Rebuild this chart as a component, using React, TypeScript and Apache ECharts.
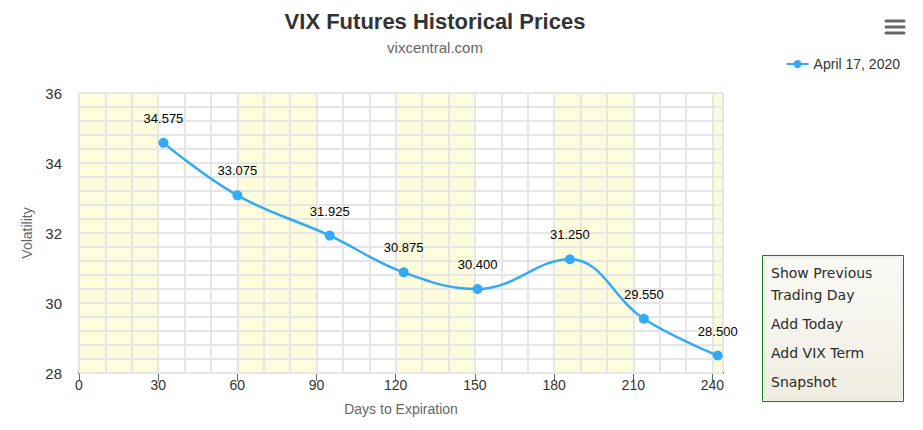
import React, { useEffect, useRef } from "react";
import * as echarts from "echarts";

const days = [32, 60, 95, 123, 151, 186, 214, 242];
const prices = [34.575, 33.075, 31.925, 30.875, 30.4, 31.25, 29.55, 28.5];
const seriesName = "April 17, 2020";
const buttonLabels = ["Show Previous", "Trading Day", "Add Today", "Add VIX Term", "Snapshot"];
const buttonY = [273, 295, 324, 353, 382];

const FONT = "'Liberation Sans', Arial, sans-serif";

export default function App() {
  const ref = useRef<HTMLDivElement>(null);
  useEffect(() => {
    const chart = echarts.init(ref.current!, undefined, { renderer: "svg" });
    chart.setOption({
      animation: false,
      textStyle: { fontFamily: FONT },
      title: {
        text: "VIX Futures Historical Prices",
        subtext: "vixcentral.com",
        left: 430,
        textAlign: "center",
        top: 5,
        itemGap: 8,
        textStyle: { fontSize: 22, fontWeight: "bold", color: "#333", fontFamily: FONT },
        subtextStyle: { fontSize: 15, color: "#666", fontFamily: FONT },
      },
      legend: {
        right: 18,
        top: 52,
        itemWidth: 22,
        itemHeight: 10,
        textStyle: { fontSize: 14, color: "#333", fontFamily: FONT },
        data: [seriesName],
      },
      grid: { left: 79, right: 200, top: 93, bottom: 57 },
      xAxis: {
        type: "value",
        z: 0,
        min: 0,
        max: 244,
        interval: 30,
        name: "Days to Expiration",
        nameLocation: "middle",
        nameGap: 29,
        nameTextStyle: { fontSize: 14, color: "#666", fontFamily: FONT },
        axisLine: { show: true, lineStyle: { color: "#666", width: 2 } },
        axisTick: { show: true, length: 8, inside: false, lineStyle: { color: "#666" } },
        axisLabel: { fontSize: 14, color: "#333", margin: 5, showMaxLabel: false, fontFamily: FONT },
        splitLine: { show: true, lineStyle: { color: "#e6e6e6", width: 2 } },
        splitArea: { show: true, areaStyle: { color: ["#fdfddc", "rgba(255,255,255,0)"] } },
        minorTick: { show: false, splitNumber: 3 },
        minorSplitLine: { show: true, lineStyle: { color: "#e6e6e6", width: 2 } },
      },
      yAxis: {
        type: "value",
        z: 1,
        min: 28,
        max: 36,
        interval: 2,
        name: "Volatility",
        nameLocation: "middle",
        nameGap: 43,
        nameTextStyle: { fontSize: 14, color: "#666", fontFamily: FONT },
        axisLine: { show: false },
        axisTick: { show: false },
        axisLabel: { fontSize: 15, color: "#333", margin: 17, fontFamily: FONT },
        splitLine: { show: true, lineStyle: { color: "#e6e6e6", width: 2 } },
        minorTick: { show: false, splitNumber: 5 },
        minorSplitLine: { show: true, lineStyle: { color: "#e6e6e6", width: 2 } },
      },
      series: [
        {
          name: seriesName,
          type: "line",
          z: 3,
          smooth: 0.4,
          data: days.map((d, i) => [d, prices[i]]),
          symbol: "circle",
          symbolSize: 10,
          itemStyle: { color: "#33aaf5" },
          lineStyle: { color: "#33aaf5", width: 2.5 },
          label: {
            show: true,
            position: "top",
            distance: 13,
            fontSize: 13,
            color: "#000",
            fontFamily: FONT,
            formatter: (p: any) => p.value[1].toFixed(3),
          },
        },
      ],
      graphic: [
        {
          type: "group",
          children: [0, 6, 12].map((dy) => ({
            type: "line",
            shape: { x1: 886, y1: 21 + dy, x2: 904, y2: 21 + dy },
            style: { stroke: "#666", lineWidth: 3, lineCap: "round" },
          })),
        },
        {
          type: "rect",
          shape: { x: 762.5, y: 255.5, width: 141, height: 146 },
          style: { fill: "#ffffff", stroke: "#1f7a1f", lineWidth: 1 },
        },
        {
          type: "rect",
          shape: { x: 764, y: 257, width: 138, height: 143, r: 4 },
          style: {
            fill: new echarts.graphic.LinearGradient(0, 0, 0, 1, [
              { offset: 0, color: "#f9f9f3" },
              { offset: 0.45, color: "#f6f5ee" },
              { offset: 1, color: "#efece0" },
            ]),
            stroke: "#e2dfd2",
            lineWidth: 1,
          },
        },
        ...buttonLabels.map((t, i) => ({
          type: "text",
          x: 771,
          y: buttonY[i],
          style: {
            text: t,
            fill: "#2a2a2a",
            fontSize: 14,
            fontFamily: "'DejaVu Sans', Verdana, sans-serif",
            textVerticalAlign: "middle",
            verticalAlign: "middle",
          },
        })),
      ],
    });
    return () => chart.dispose();
  }, []);
  return <div ref={ref} style={{ width: 923, height: 430, position: "absolute", left: 0, top: 0 }} />;
}
